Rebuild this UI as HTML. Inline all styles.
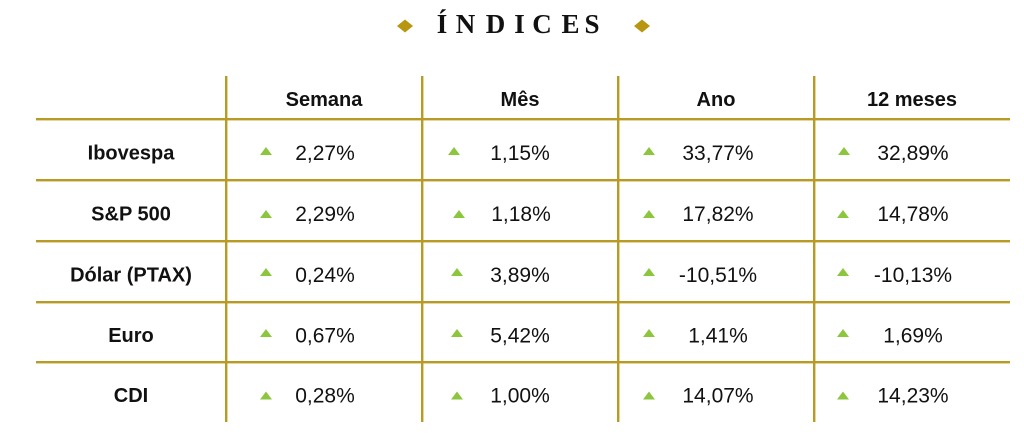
<!DOCTYPE html>
<html>
<head>
<meta charset="utf-8">
<style>
  html, body { margin: 0; padding: 0; background: #ffffff; }
  body { width: 1024px; height: 438px; overflow: hidden; }
  svg { display: block; }
  .hdr { font-family: "Liberation Sans", Arial, sans-serif; font-weight: bold; font-size: 20px; fill: #111; }
  .lbl { font-family: "Liberation Sans", Arial, sans-serif; font-weight: bold; font-size: 20px; fill: #111; }
  .val { font-family: "Liberation Sans", Arial, sans-serif; font-size: 21px; fill: #111; }
  .ttl { font-family: "Liberation Serif", "Times New Roman", serif; font-weight: bold; font-size: 27px; fill: #111; }
</style>
</head>
<body>
<svg width="1024" height="438" viewBox="0 0 1024 438" xmlns="http://www.w3.org/2000/svg">
  <rect x="0" y="0" width="1024" height="438" fill="#ffffff"/>

  <!-- Title -->
  <polygon points="397,26 405,19.5 413,26 405,32.5" fill="#b8960f"/>
  <polygon points="634,26 642,19.5 650,26 642,32.5" fill="#b8960f"/>
  <text class="ttl" x="442 465.5 495.5 519.5 542 570.5 592" y="33" text-anchor="middle">ÍNDICES</text>

  <!-- Grid lines -->
  <g fill="#b89b24">
    <rect x="225" y="76" width="2.4" height="346"/>
    <rect x="421" y="76" width="2.4" height="346"/>
    <rect x="617" y="76" width="2.4" height="346"/>
    <rect x="813" y="76" width="2.4" height="346"/>
    <rect x="36" y="118" width="974" height="2.4"/>
    <rect x="36" y="179" width="974" height="2.4"/>
    <rect x="36" y="240" width="974" height="2.4"/>
    <rect x="36" y="301" width="974" height="2.4"/>
    <rect x="36" y="361" width="974" height="2.4"/>
  </g>

  <!-- Header -->
  <text class="hdr" x="324" y="106" text-anchor="middle">Semana</text>
  <text class="hdr" x="520" y="106" text-anchor="middle">Mês</text>
  <text class="hdr" x="716" y="106" text-anchor="middle">Ano</text>
  <text class="hdr" x="912" y="106" text-anchor="middle">12 meses</text>

  <!-- Row labels -->
  <text class="lbl" x="131" y="159.5" text-anchor="middle">Ibovespa</text>
  <text class="lbl" x="131" y="220.5" text-anchor="middle">S&amp;P 500</text>
  <text class="lbl" x="131" y="281.5" text-anchor="middle">Dólar (PTAX)</text>
  <text class="lbl" x="131" y="342" text-anchor="middle">Euro</text>
  <text class="lbl" x="131" y="402" text-anchor="middle">CDI</text>

  <!-- Arrows -->
  <g fill="#8cc63f">
    <polygon points="260,155 266,147 272,155"/>
    <polygon points="448,155 454,147 460,155"/>
    <polygon points="643,155 649,147 655,155"/>
    <polygon points="838,155 844,147 850,155"/>

    <polygon points="260,218 266,210 272,218"/>
    <polygon points="453,218 459,210 465,218"/>
    <polygon points="643,218 649,210 655,218"/>
    <polygon points="837,218 843,210 849,218"/>

    <polygon points="260,276 266,268 272,276"/>
    <polygon points="451,276 457,268 463,276"/>
    <polygon points="643,276 649,268 655,276"/>
    <polygon points="837,276 843,268 849,276"/>

    <polygon points="260,337 266,329 272,337"/>
    <polygon points="451,337 457,329 463,337"/>
    <polygon points="643,337 649,329 655,337"/>
    <polygon points="837,337 843,329 849,337"/>

    <polygon points="260,399.5 266,391.5 272,399.5"/>
    <polygon points="451,399.5 457,391.5 463,399.5"/>
    <polygon points="643,399.5 649,391.5 655,399.5"/>
    <polygon points="837,399.5 843,391.5 849,399.5"/>
  </g>

  <!-- Values -->
  <text class="val" x="325" y="160" text-anchor="middle">2,27%</text>
  <text class="val" x="520" y="160" text-anchor="middle">1,15%</text>
  <text class="val" x="718" y="160" text-anchor="middle">33,77%</text>
  <text class="val" x="913" y="160" text-anchor="middle">32,89%</text>

  <text class="val" x="325" y="221" text-anchor="middle">2,29%</text>
  <text class="val" x="521" y="221" text-anchor="middle">1,18%</text>
  <text class="val" x="718" y="221" text-anchor="middle">17,82%</text>
  <text class="val" x="913" y="221" text-anchor="middle">14,78%</text>

  <text class="val" x="325" y="282" text-anchor="middle">0,24%</text>
  <text class="val" x="520" y="282" text-anchor="middle">3,89%</text>
  <text class="val" x="718" y="282" text-anchor="middle">-10,51%</text>
  <text class="val" x="913" y="282" text-anchor="middle">-10,13%</text>

  <text class="val" x="325" y="342.5" text-anchor="middle">0,67%</text>
  <text class="val" x="520" y="342.5" text-anchor="middle">5,42%</text>
  <text class="val" x="718" y="342.5" text-anchor="middle">1,41%</text>
  <text class="val" x="913" y="342.5" text-anchor="middle">1,69%</text>

  <text class="val" x="325" y="402.5" text-anchor="middle">0,28%</text>
  <text class="val" x="520" y="402.5" text-anchor="middle">1,00%</text>
  <text class="val" x="718" y="402.5" text-anchor="middle">14,07%</text>
  <text class="val" x="913" y="402.5" text-anchor="middle">14,23%</text>
</svg>
</body>
</html>
